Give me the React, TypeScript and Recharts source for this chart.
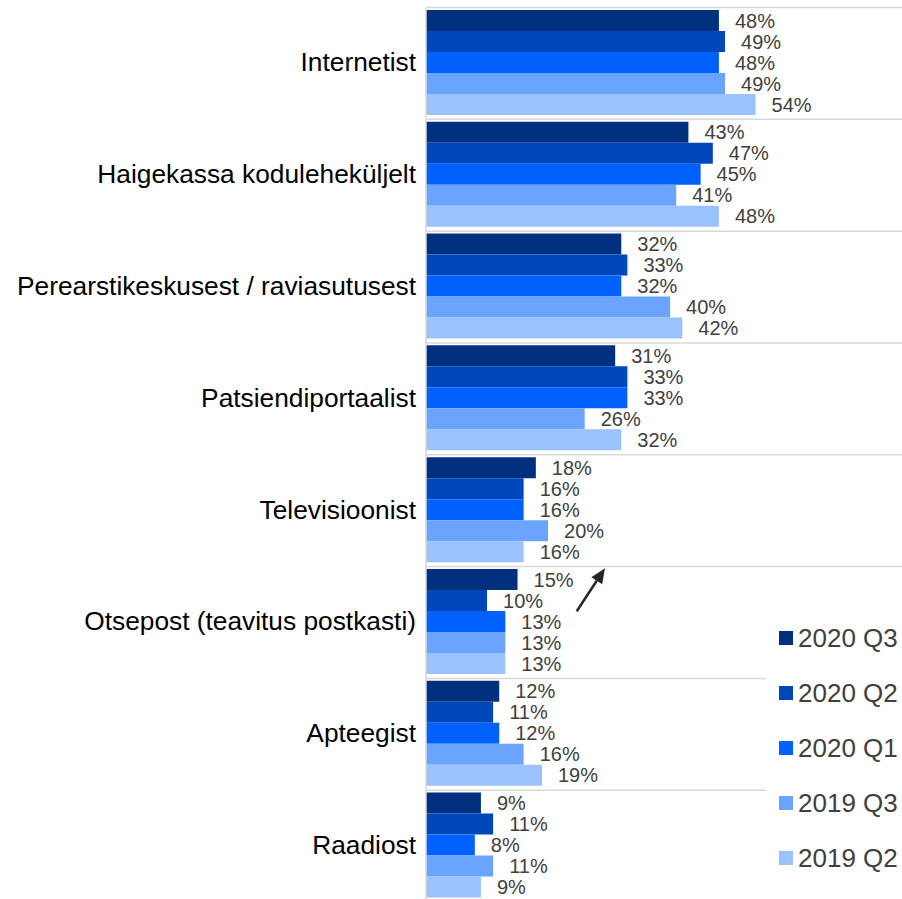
import React from "react";
import { BarChart, Bar, XAxis, YAxis, LabelList, Legend, ReferenceArea } from "recharts";

const categories = [
  "Internetist",
  "Haigekassa koduleheküljelt",
  "Perearstikeskusest / raviasutusest",
  "Patsiendiportaalist",
  "Televisioonist",
  "Otsepost (teavitus postkasti)",
  "Apteegist",
  "Raadiost",
];

const seriesNames = ["2020 Q3", "2020 Q2", "2020 Q1", "2019 Q3", "2019 Q2"];
const q3_2020 = [48, 43, 32, 31, 18, 15, 12, 9];
const q2_2020 = [49, 47, 33, 33, 16, 10, 11, 11];
const q1_2020 = [48, 45, 32, 33, 16, 13, 12, 8];
const q3_2019 = [49, 41, 40, 26, 20, 13, 16, 11];
const q2_2019 = [54, 48, 42, 32, 16, 13, 19, 9];
const seriesValues = [q3_2020, q2_2020, q1_2020, q3_2019, q2_2019];
const colors = ["#00307E", "#0047BB", "#0061FF", "#6AA4FF", "#99C2FF"];

// arrow annotation: x range in %, inside the "Otsepost" band
const arrowCategory = "Otsepost (teavitus postkasti)";
const arrowX = [24.7, 29.33];

const data = categories.map((name, i) => {
  const row: any = { name };
  seriesNames.forEach((s, j) => {
    row[s] = seriesValues[j][i];
  });
  return row;
});

const FONT = '"Liberation Sans", Arial, sans-serif';

const CatTick = (props: any) => {
  const { x, y, payload } = props;
  return (
    <text x={x} y={y} dy={8} textAnchor="end" fontSize={26.3} fill="#000" fontFamily={FONT}>
      {payload.value}
    </text>
  );
};

const GridTopLine = (props: any) => {
  const { x, y, width } = props;
  if ([x, y, width].some((v) => typeof v !== "number" || isNaN(v))) return null;
  return <line x1={x} y1={y} x2={x + width} y2={y} stroke="#d9d9d9" strokeWidth={1.5} />;
};

const ArrowShape = (props: any) => {
  const { x, y, width, height } = props;
  if ([x, y, width, height].some((v) => typeof v !== "number" || isNaN(v))) return null;
  const x1 = x;
  const y1 = y + height * 0.4;
  const x2 = x + width;
  const y2 = y + height * 0.015;
  const dx = x2 - x1;
  const dy = y2 - y1;
  const len = Math.sqrt(dx * dx + dy * dy);
  const ux = dx / len;
  const uy = dy / len;
  const headLen = 15;
  const headW = 6.5;
  const bx = x2 - ux * headLen;
  const by = y2 - uy * headLen;
  const px = -uy;
  const py = ux;
  return (
    <g>
      <line x1={x1} y1={y1} x2={bx} y2={by} stroke="#262626" strokeWidth={2.5} />
      <polygon
        points={`${x2},${y2} ${bx + px * headW},${by + py * headW} ${bx - px * headW},${by - py * headW}`}
        fill="#262626"
      />
    </g>
  );
};

const LegendContent = () => (
  <div style={{ fontFamily: FONT }}>
    {seriesNames.map((s, i) => (
      <div key={s} style={{ display: "flex", alignItems: "center", height: 55 }}>
        <div style={{ width: 14, height: 14, background: colors[i], marginRight: 5 }} />
        <span style={{ fontSize: 26, color: "#404040", lineHeight: "26px" }}>{s}</span>
      </div>
    ))}
  </div>
);

export default function App() {
  return (
    <div
      style={{
        position: "absolute",
        left: 0,
        top: 0,
        width: 902,
        height: 899,
        overflow: "hidden",
        background: "#fff",
      }}
    >
      <BarChart
        width={902}
        height={902}
        data={data}
        layout="vertical"
        margin={{ top: 7.5, right: 0, bottom: 0, left: 0 }}
        barCategoryGap={2.4}
        barGap={0}
      >
        <XAxis type="number" domain={[0, 78]} hide />
        <YAxis
          type="category"
          dataKey="name"
          width={426}
          tickLine={false}
          tickSize={0}
          tickMargin={10}
          axisLine={{ stroke: "#d9d9d9", strokeWidth: 1.5 }}
          tick={<CatTick />}
          interval={0}
        />
        {categories.map((c) => (
          <ReferenceArea key={c} y1={c} y2={c} fillOpacity={0} shape={<GridTopLine />} />
        ))}
        {seriesNames.map((s, i) => (
          <Bar key={s} dataKey={s} fill={colors[i]} isAnimationActive={false}>
            <LabelList
              dataKey={s}
              position="right"
              offset={16}
              formatter={(v: any) => `${v}%`}
              style={{ fontSize: 20, fill: "#404040", fontFamily: FONT }}
            />
          </Bar>
        ))}
        <ReferenceArea
          x1={arrowX[0]}
          x2={arrowX[1]}
          y1={arrowCategory}
          y2={arrowCategory}
          shape={<ArrowShape />}
        />
        <Legend
          layout="vertical"
          align="center"
          verticalAlign="middle"
          content={<LegendContent />}
          wrapperStyle={{
            left: 766,
            top: 600,
            width: 136,
            height: 299,
            background: "#fff",
            paddingLeft: 13,
            paddingTop: 10,
            boxSizing: "border-box",
          }}
        />
      </BarChart>
    </div>
  );
}
